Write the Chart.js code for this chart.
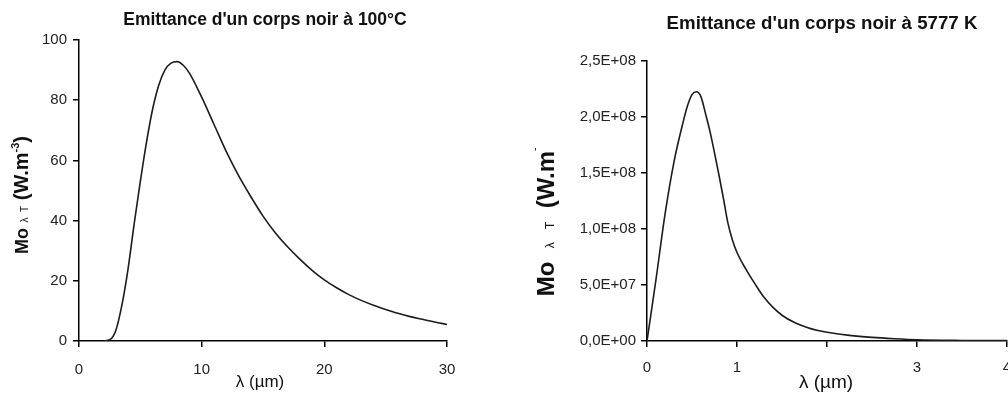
<!DOCTYPE html>
<html>
<head>
<meta charset="utf-8">
<script src="https://cdn.jsdelivr.net/npm/chart.js"></script>
<style>
    body { margin: 0; background: #fff; width: 1008px; height: 394px; overflow: hidden; position: relative; }
    #chart100 { position: absolute; left: 0; top: 0; }
    #chart5777 { position: absolute; left: 520px; top: 0; }
</style>
</head>
<body>
<canvas id="chart100" width="500" height="394"></canvas>
<canvas id="chart5777" width="520" height="394"></canvas>
<script>
// corps noir a 100 °C : lambda en µm, emittance
const lambda100 = [2, 2.5, 3, 3.5, 4, 4.5, 5, 5.5, 6, 6.5, 7, 7.5, 8, 8.5, 9, 10, 11, 12, 13, 14, 15,
    16, 17, 18, 19, 20, 21, 22, 23, 24, 25, 26, 27, 28, 29, 30];
const emit100 = [0, 0.4, 3.5, 12, 24, 39, 53, 66, 77, 85, 90, 92.3, 92.8, 91.6, 89, 81, 72, 63, 55, 48, 41.5,
    36, 31.3, 27.2, 23.5, 20.3, 17.7, 15.4, 13.5, 11.9, 10.5, 9.2, 8.1, 7.2, 6.3, 5.5];
const xTicks100 = [0, 10, 20, 30];
const yTicks100 = [0, 20, 40, 60, 80, 100];

// corps noir a 5777 K
const lambda5777 = [0, 0.1, 0.2, 0.3, 0.4, 0.45, 0.5, 0.55, 0.6, 0.65, 0.7, 0.75, 0.8, 0.85, 0.9, 0.95,
    1.0, 1.1, 1.2, 1.3, 1.4, 1.5, 1.65, 1.8, 1.9, 2.0, 2.25, 2.5, 2.75, 3.0, 3.5, 4.0];
const emit5777 = [0, 5.5e7, 1.13e8, 1.6e8, 1.95e8, 2.1e8, 2.2e8, 2.225e8, 2.18e8, 2.03e8, 1.87e8, 1.68e8,
    1.48e8, 1.27e8, 1.05e8, 9.0e7, 7.9e7, 6.4e7, 5.1e7, 3.9e7, 3.0e7, 2.3e7, 1.6e7, 1.15e7, 9.3e6,
    7.8e6, 5.0e6, 3.2e6, 2.0e6, 1.1e6, 5.0e5, 3.0e5];
const xTicks5777 = [0, 1, 2, 3, 4];
const xLabels5777 = ['0', '1', '', '3', '4'];
const yTicks5777 = [0, 5e7, 1e8, 1.5e8, 2e8, 2.5e8];

const BOLD = 'bold {s}px "Liberation Sans", Arial, sans-serif';
const REG = '{s}px "Liberation Sans", Arial, sans-serif';
function f(tpl, s) { return tpl.replace('{s}', s); }

// format Excel : 2,5E+08
function sciLabel(v) {
    if (v === 0) return '0,0E+00';
    const e = Math.floor(Math.log10(v));
    const m = v / Math.pow(10, e);
    return m.toFixed(1).replace('.', ',') + 'E+' + String(e).padStart(2, '0');
}

// titres dessines a la main (indices, exposants)
const freeText = {
    id: 'freeText',
    afterDraw(chart, args, opts) {
        const ctx = chart.ctx;
        (opts.items || []).forEach(item => {
            ctx.save();
            ctx.translate(item.x, item.y);
            if (item.rotate) ctx.rotate(item.rotate);
            ctx.fillStyle = item.color || '#111';
            ctx.textBaseline = 'alphabetic';
            ctx.textAlign = 'left';
            let total = 0;
            item.parts.forEach(p => { ctx.font = p.font; total += ctx.measureText(p.text).width; });
            let cx = -total / 2;
            item.parts.forEach(p => {
                ctx.font = p.font;
                ctx.fillText(p.text, cx, p.dy || 0);
                cx += ctx.measureText(p.text).width;
            });
            ctx.restore();
        });
    }
};

function axisStyle(pad) {
    return {
        border: { display: true, color: '#000', width: 1.5 },
        grid: { display: true, drawOnChartArea: false, drawTicks: true, tickLength: 6, color: '#000', lineWidth: 1.5 },
        ticks: { color: '#222', font: { family: '"Liberation Sans", Arial, sans-serif', size: 15 }, padding: pad, autoSkip: false, maxRotation: 0 }
    };
}

function makeChart(id, xs, ys, cfg) {
    return new Chart(document.getElementById(id), {
        type: 'scatter',
        data: {
            datasets: [{
                data: xs.map((v, i) => ({ x: v, y: ys[i] })),
                showLine: true,
                borderColor: '#1c1c1c',
                borderWidth: 1.6,
                pointRadius: 0,
                cubicInterpolationMode: 'monotone',
                fill: false
            }]
        },
        options: {
            responsive: false,
            animation: false,
            devicePixelRatio: 1,
            layout: { padding: { top: cfg.top, right: cfg.right, left: 0, bottom: 0 } },
            scales: {
                x: Object.assign(axisStyle(cfg.xPad), {
                    type: 'linear', min: cfg.xTicks[0], max: cfg.xTicks[cfg.xTicks.length - 1],
                    afterBuildTicks: s => { s.ticks = cfg.xTicks.map(v => ({ value: v })); },
                    afterFit: s => { s.height = 53; }
                }),
                y: Object.assign(axisStyle(cfg.yPad), {
                    min: 0, max: cfg.yTicks[cfg.yTicks.length - 1],
                    afterBuildTicks: s => { s.ticks = cfg.yTicks.map(v => ({ value: v })); },
                    afterFit: s => { s.width = cfg.yWidth; }
                })
            },
            plugins: {
                legend: { display: false },
                tooltip: { enabled: false },
                freeText: { items: cfg.texts }
            }
        },
        plugins: [freeText]
    });
}

const c100 = makeChart('chart100', lambda100, emit100, {
    xTicks: xTicks100, yTicks: yTicks100, yWidth: 79, top: 40, right: 53, xPad: 14, yPad: 6,
    texts: [
        { x: 265, y: 25, parts: [{ text: "Emittance d'un corps noir à 100°C", font: f(BOLD, 17.5) }] },
        { x: 260, y: 387, parts: [{ text: 'λ (µm)', font: f(REG, 17) }] },
        { x: 28, y: 195, rotate: -Math.PI / 2, parts: [
            { text: 'Mo', font: f(BOLD, 18) },
            { text: '  λ  T  ', font: f(REG, 10) },
            { text: '(W.m', font: f(BOLD, 20) },
            { text: '-3', font: f(BOLD, 11), dy: -9 },
            { text: ')', font: f(BOLD, 20) }
        ] }
    ]
});
c100.options.scales.y.ticks.callback = v => String(v);
c100.update();

const c5777 = makeChart('chart5777', lambda5777, emit5777, {
    xTicks: xTicks5777, yTicks: yTicks5777, yWidth: 127, top: 61, right: 33, xPad: 12, yPad: 5,
    texts: [
        { x: 302, y: 29, parts: [{ text: "Emittance d'un corps noir à 5777 K", font: f(BOLD, 18.7) }] },
        { x: 306, y: 388, parts: [{ text: 'λ (µm)', font: f(REG, 19) }] },
        { x: 34, y: 222, rotate: -Math.PI / 2, parts: [
            { text: 'Mo', font: f(BOLD, 24) },
            { text: '    λ    T    ', font: f(REG, 12) },
            { text: '(W.m', font: f(BOLD, 24) },
            { text: '-', font: f(REG, 10), dy: -16 }
        ] }
    ]
});
c5777.options.scales.y.ticks.callback = v => sciLabel(v);
c5777.options.scales.x.ticks.callback = (v, i) => xLabels5777[i];
c5777.update();
</script>
</body>
</html>
